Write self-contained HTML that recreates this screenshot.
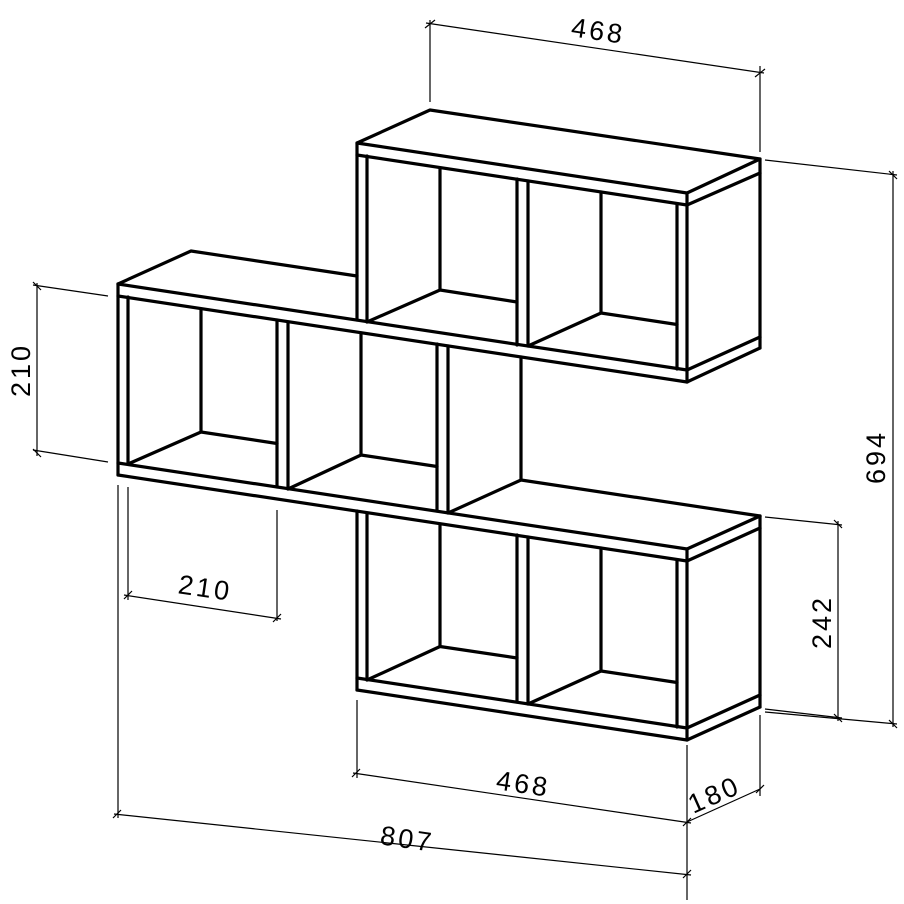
<!DOCTYPE html>
<html><head><meta charset="utf-8"><style>
html,body{margin:0;padding:0;background:#fff;}
svg{display:block;}
text{font-family:"Liberation Sans",sans-serif;font-size:27px;fill:#000;letter-spacing:3px;}
</style></head><body>
<svg width="904" height="904" viewBox="0 0 904 904" xmlns="http://www.w3.org/2000/svg">
<g stroke="#000" stroke-width="3.2" fill="none" stroke-linecap="round" stroke-linejoin="round">
<polygon points="357,143 430,110 760,159 687,193"/>
<line x1="357" y1="155" x2="687" y2="205"/>
<line x1="687" y1="193" x2="687" y2="382"/>
<line x1="760" y1="159" x2="760" y2="348"/>
<line x1="687" y1="382" x2="760" y2="348"/>
<line x1="687" y1="205" x2="760" y2="173"/>
<line x1="687" y1="370" x2="760" y2="337"/>
<line x1="677" y1="204" x2="677" y2="369"/>
<line x1="357" y1="143" x2="357" y2="320"/>
<line x1="367" y1="156" x2="367" y2="322"/>
<line x1="517" y1="179" x2="517" y2="345"/>
<line x1="528" y1="181" x2="528" y2="346"/>
<line x1="440" y1="168" x2="440" y2="290"/>
<polyline points="367,322 440,290 517,302"/>
<line x1="601" y1="192" x2="601" y2="313"/>
<polyline points="528,346 601,313 677,324.5"/>
<line x1="118" y1="284" x2="687" y2="370"/>
<line x1="118" y1="296" x2="687" y2="382"/>
<polyline points="118,284 191,251 357,276"/>
<line x1="118" y1="284" x2="118" y2="475"/>
<line x1="128" y1="297" x2="128" y2="464"/>
<line x1="118" y1="463" x2="687" y2="549"/>
<line x1="118" y1="475" x2="687" y2="561"/>
<line x1="277" y1="320" x2="277" y2="487"/>
<line x1="288" y1="322" x2="288" y2="489"/>
<line x1="437" y1="344" x2="437" y2="511"/>
<line x1="448" y1="346" x2="448" y2="513"/>
<line x1="201" y1="309" x2="201" y2="432"/>
<polyline points="128,464 201,432 277,443.5"/>
<line x1="361" y1="333" x2="361" y2="455"/>
<polyline points="288,489 361,455 437,466.5"/>
<line x1="521" y1="357" x2="521" y2="480"/>
<polyline points="448,513 521,480 760,516"/>
<line x1="687" y1="549" x2="760" y2="516"/>
<line x1="760" y1="516" x2="760" y2="707"/>
<line x1="687" y1="561" x2="760" y2="528"/>
<line x1="687" y1="740" x2="760" y2="707"/>
<line x1="687" y1="728" x2="760" y2="695"/>
<line x1="357" y1="511" x2="357" y2="690"/>
<line x1="367" y1="513" x2="367" y2="680"/>
<line x1="357" y1="678" x2="687" y2="728"/>
<line x1="357" y1="690" x2="687" y2="740"/>
<line x1="687" y1="549" x2="687" y2="740"/>
<line x1="677" y1="560" x2="677" y2="727"/>
<line x1="517" y1="535" x2="517" y2="702"/>
<line x1="528" y1="537" x2="528" y2="704"/>
<line x1="440" y1="524" x2="440" y2="646.5"/>
<polyline points="367,680 440,646.5 517,658"/>
<line x1="601" y1="548" x2="601" y2="671"/>
<polyline points="528,704 601,671 677,682.5"/>
</g>
<g stroke="#000" stroke-width="1.2" fill="none">
<line x1="430" y1="102" x2="430" y2="20"/>
<line x1="760" y1="152" x2="760" y2="66"/>
<line x1="426" y1="23" x2="764" y2="73"/>
<line x1="425" y1="28" x2="435" y2="20"/>
<line x1="755" y1="77" x2="765" y2="69"/>
<line x1="33" y1="285" x2="108" y2="296"/>
<line x1="33" y1="450" x2="108" y2="462"/>
<line x1="37" y1="283" x2="37" y2="456"/>
<line x1="33" y1="282" x2="41" y2="290"/>
<line x1="33" y1="449" x2="41" y2="457"/>
<line x1="128" y1="487" x2="128" y2="600"/>
<line x1="277" y1="510" x2="277" y2="621"/>
<line x1="124" y1="595" x2="281" y2="619"/>
<line x1="124" y1="599" x2="132" y2="591"/>
<line x1="273" y1="622" x2="281" y2="614"/>
<line x1="118" y1="485" x2="118" y2="818"/>
<line x1="687" y1="745" x2="687" y2="900"/>
<line x1="114" y1="814" x2="691" y2="875"/>
<line x1="113" y1="818" x2="121" y2="810"/>
<line x1="683" y1="878" x2="691" y2="870"/>
<line x1="357" y1="700" x2="357" y2="778"/>
<line x1="353" y1="773" x2="691" y2="823"/>
<line x1="352" y1="777" x2="360" y2="769"/>
<line x1="683" y1="826" x2="691" y2="818"/>
<line x1="760" y1="715" x2="760" y2="796"/>
<line x1="687" y1="822" x2="760" y2="789"/>
<line x1="756" y1="793" x2="764" y2="785"/>
<line x1="765" y1="160" x2="897" y2="175"/>
<line x1="765" y1="712" x2="897" y2="724"/>
<line x1="893" y1="171" x2="893" y2="727"/>
<line x1="889" y1="171" x2="897" y2="179"/>
<line x1="889" y1="720" x2="897" y2="728"/>
<line x1="765" y1="517" x2="842" y2="525"/>
<line x1="765" y1="709" x2="842" y2="718"/>
<line x1="838" y1="521" x2="838" y2="721"/>
<line x1="834" y1="520" x2="842" y2="528"/>
<line x1="834" y1="714" x2="842" y2="722"/>
</g>
<g text-anchor="middle">
<text x="597" y="40" transform="rotate(8.3 597 40)">468</text>
<text x="204" y="597" transform="rotate(8.3 204 597)">210</text>
<text x="522" y="793" transform="rotate(8.3 522 793)">468</text>
<text x="406" y="848" transform="rotate(8.3 406 848)">807</text>
<text x="718" y="803" transform="rotate(-24 718 803)">180</text>
<text x="30" y="370" transform="rotate(-90 30 370)">210</text>
<text x="831" y="622" transform="rotate(-90 831 622)">242</text>
<text x="885" y="457" transform="rotate(-90 885 457)">694</text>
</g>
</svg>
</body></html>
